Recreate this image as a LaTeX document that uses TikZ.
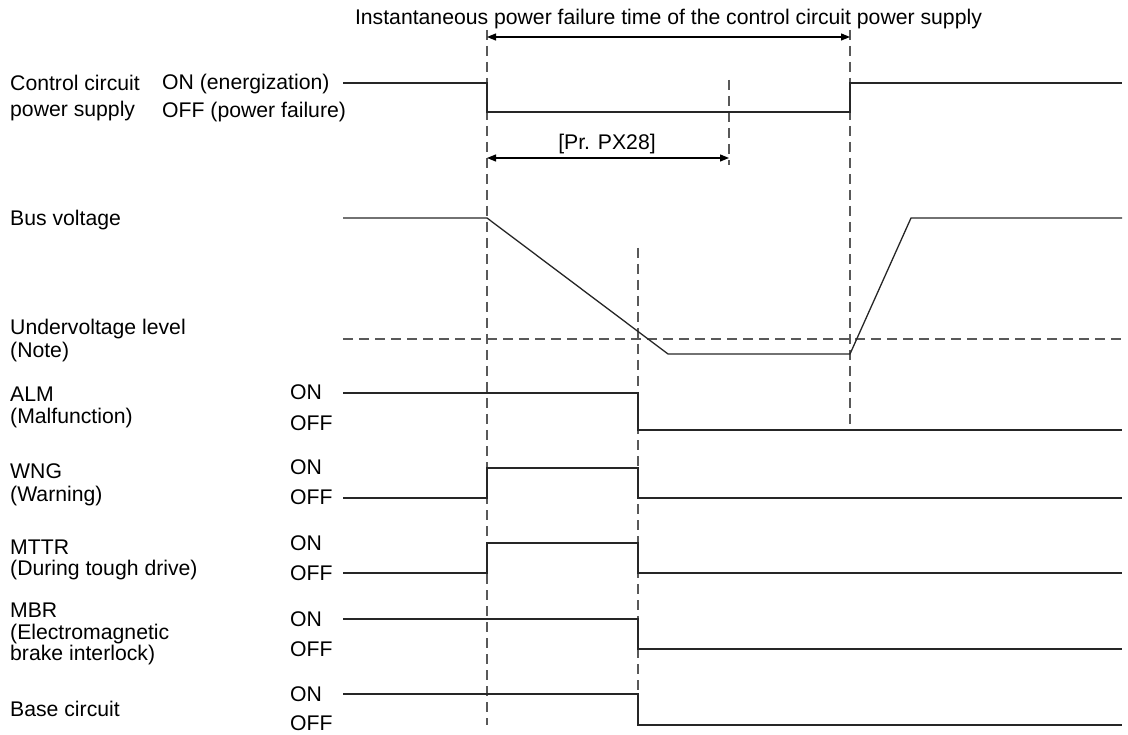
\documentclass[tikz,border=0pt]{standalone}
\usepackage{fontspec}
\setmainfont{Liberation Sans}
\usetikzlibrary{arrows.meta}
\begin{document}
\begin{tikzpicture}[x=1pt,y=-1pt,
  lbl/.style={anchor=base west, inner sep=0pt, font=\fontsize{21.2}{24}\selectfont},
  ctr/.style={anchor=base, inner sep=0pt, font=\fontsize{21.2}{24}\selectfont},
  sig/.style={line width=1.3pt, draw=black!85, line join=miter},
  guide/.style={line width=1.1pt, draw=black!65, dash pattern=on 10pt off 6pt},
  dim/.style={line width=1.2pt, {Triangle[length=9pt,width=7pt]}-{Triangle[length=9pt,width=7pt]}}]
\useasboundingbox (0,0) rectangle (1128,735);

% guide lines
\draw[guide] (487,30) -- (487,725);
\draw[guide] (850,30) -- (850,430);
\draw[guide] (729,80) -- (729,165);
\draw[guide] (638,248) -- (638,692);
\draw[guide] (343,339) -- (1122,339);

% dimension arrows
\coordinate (d1a) at (487,37);
\coordinate (d1b) at (850,37);
\coordinate (d2a) at (487,158);
\coordinate (d2b) at (729,158);
\draw[dim] (d1a) -- (d1b);
\draw[dim] (d2a) -- (d2b);
\node[ctr] (title) at (668.5,25) {Instantaneous power failure time of the control circuit power supply};
\node[ctr] (px28) at (607,150) {[Pr. PX28]};

% labels
\node[lbl] (cc1) at (10,91) {Control circuit};
\node[lbl] (cc2) at (10,117) {power supply};
\node[lbl] (ccon) at (162,90) {ON (energization)};
\node[lbl] (ccoff) at (162,118) {OFF (power failure)};
\node[lbl] (bus) at (10,226) {Bus voltage};
\node[lbl] (uv1) at (10,335) {Undervoltage level};
\node[lbl] (uv2) at (10,358) {(Note)};
\node[lbl] (alm1) at (10,402) {ALM};
\node[lbl] (alm2) at (10,424) {(Malfunction)};
\node[lbl] (almon) at (290,400) {ON};
\node[lbl] (almoff) at (290,431) {OFF};
\node[lbl] (wng1) at (10,478) {WNG};
\node[lbl] (wng2) at (10,501) {(Warning)};
\node[lbl] (wngon) at (290,475) {ON};
\node[lbl] (wngoff) at (290,504) {OFF};
\node[lbl] (mt1) at (10,554) {MTTR};
\node[lbl] (mt2) at (10,575) {(During tough drive)};
\node[lbl] (mton) at (290,550) {ON};
\node[lbl] (mtoff) at (290,580) {OFF};
\node[lbl] (mb1) at (10,617) {MBR};
\node[lbl] (mb2) at (10,639) {(Electromagnetic};
\node[lbl] (mb3) at (10,660) {brake interlock)};
\node[lbl] (mbon) at (290,626) {ON};
\node[lbl] (mboff) at (290,656) {OFF};
\node[lbl] (bc) at (10,716) {Base circuit};
\node[lbl] (bcon) at (290,701) {ON};
\node[lbl] (bcoff) at (290,730) {OFF};

% signals
\draw[sig] (343,83) -- (487,83) -- (487,112) -- (850,112) -- (850,83) -- (1122,83);
\draw[sig] (343,218) -- (487,218) -- (668,354) -- (850,354) -- (911,218) -- (1122,218);
\draw[sig] (343,393) -- (638,393) -- (638,430) -- (1122,430);
\draw[sig] (343,498) -- (487,498) -- (487,468) -- (638,468) -- (638,498) -- (1122,498);
\draw[sig] (343,573) -- (487,573) -- (487,543) -- (638,543) -- (638,573) -- (1122,573);
\draw[sig] (343,619) -- (638,619) -- (638,649) -- (1122,649);
\draw[sig] (343,694) -- (638,694) -- (638,725) -- (1122,725);
\end{tikzpicture}
\end{document}
